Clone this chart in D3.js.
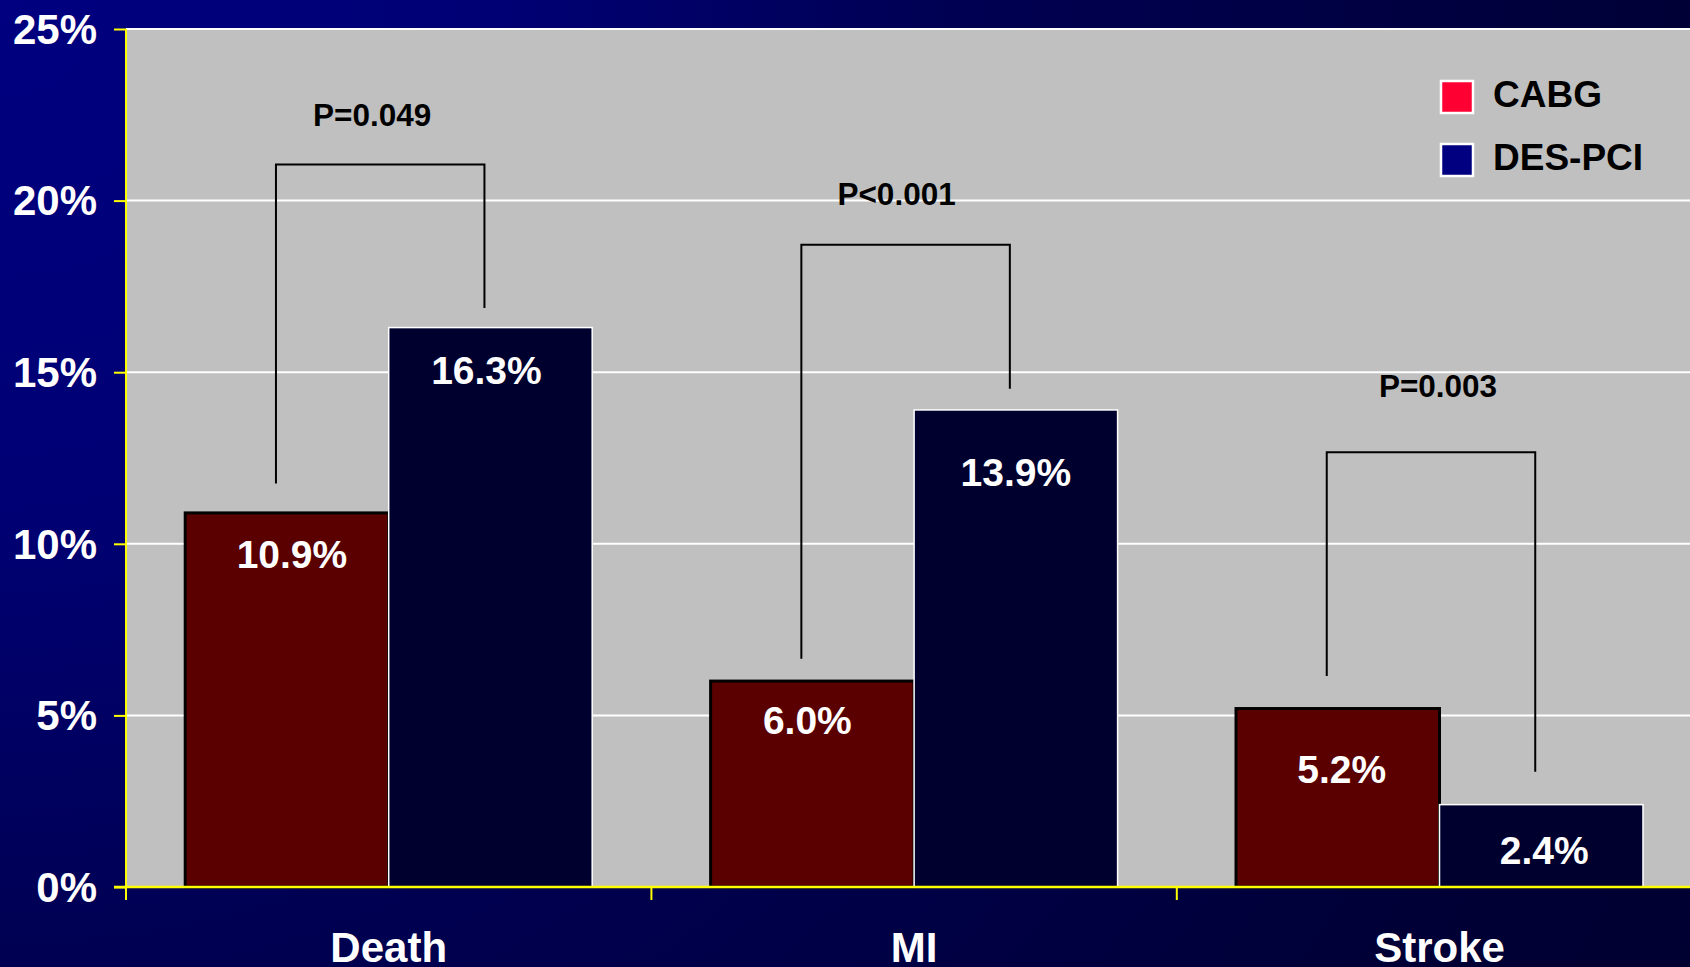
<!DOCTYPE html>
<html>
<head>
<meta charset="utf-8">
<script src="https://cdn.jsdelivr.net/npm/d3@7"></script>
<style>
  html, body { margin: 0; padding: 0; background: #000050; overflow: hidden; }
  svg { display: block; }
  text { font-family: "Liberation Sans", Arial, Helvetica, sans-serif; font-weight: bold; }
</style>
</head>
<body>
<svg id="chart" width="1690" height="967"></svg>
<script>
// Event rates by endpoint, CABG vs DES-PCI
const categories = ["Death", "MI", "Stroke"];
const seriesNames = ["CABG", "DES-PCI"];
const cabgValues = [0.109, 0.060, 0.052];
const desValues = [0.163, 0.139, 0.024];
const yTickValues = [0, 0.05, 0.10, 0.15, 0.20, 0.25];

// Significance brackets (levels in the same units as the y axis)
const pLabels = ["P=0.049", "P<0.001", "P=0.003"];
const bracketTop = [0.2105, 0.1871, 0.1267];
const bracketLeftFoot = [0.1176, 0.0665, 0.0615];
const bracketRightFoot = [0.1687, 0.1452, 0.0336];
const pLabelLevel = [0.2218, 0.1987, 0.1427];

// Label placement tweaks (px)
const pLabelShift = [-8, -9, 7];
const cabgLabelDrop = [55, 53, 74];
const desLabelDrop = [56, 76, 59];
const cabgLabelShift = [5, -5, 4];
const desLabelShift = [-4, 0, 3];

const W = 1690, H = 967;
const plot = { left: 126, top: 29, bottom: 887 };
const step = 525.4;
const plotRight = plot.left + step * categories.length;

const barFill = { "CABG": "#5a0000", "DES-PCI": "#00002e" };
const barStroke = { "CABG": "#000000", "DES-PCI": "#ffffff" };
const barStrokeW = { "CABG": 3, "DES-PCI": 1.5 };
const legendFill = { "CABG": "#ff0033", "DES-PCI": "#000080" };

const svg = d3.select("#chart");
const defs = svg.append("defs");

// Navy backdrop, brightest at the top-left corner
const grad = defs.append("radialGradient")
  .attr("id", "bg").attr("gradientUnits", "userSpaceOnUse")
  .attr("cx", 0).attr("cy", 0).attr("r", 2000);
[[0, "#000080"], [0.25, "#000074"], [0.48, "#000052"], [0.85, "#000036"], [1, "#000030"]]
  .forEach(([o, c]) => grad.append("stop").attr("offset", o).attr("stop-color", c));
svg.append("rect").attr("width", W).attr("height", H).attr("fill", "url(#bg)");

const x = d3.scaleBand().domain(categories).range([plot.left, plotRight]).paddingInner(0).paddingOuter(0);
const xs = d3.scaleBand().domain(seriesNames).range([0, x.bandwidth()]).paddingInner(0).paddingOuter(0.291);
const y = d3.scaleLinear().domain([0, 0.25]).range([plot.bottom, plot.top]);

// Plot area
svg.append("rect")
  .attr("x", plot.left).attr("y", plot.top)
  .attr("width", plotRight - plot.left).attr("height", plot.bottom - plot.top)
  .attr("fill", "#c0c0c0");

// Horizontal gridlines
svg.append("g").selectAll("line")
  .data(yTickValues.filter(d => d > 0))
  .join("line")
  .attr("x1", plot.left).attr("x2", plotRight)
  .attr("y1", d => y(d)).attr("y2", d => y(d))
  .attr("stroke", "#ffffff").attr("stroke-width", 2);

// Bars
const rows = categories.map((c, i) => ({
  category: c,
  items: [
    { series: "CABG", value: cabgValues[i], drop: cabgLabelDrop[i], shift: cabgLabelShift[i] },
    { series: "DES-PCI", value: desValues[i], drop: desLabelDrop[i], shift: desLabelShift[i] }
  ]
}));

const groups = svg.append("g").selectAll("g")
  .data(rows).join("g")
  .attr("transform", d => `translate(${x(d.category)},0)`);

groups.selectAll("rect")
  .data(d => d.items).join("rect")
  .attr("x", d => xs(d.series))
  .attr("y", d => y(d.value))
  .attr("width", xs.bandwidth())
  .attr("height", d => y(0) - y(d.value))
  .attr("fill", d => barFill[d.series])
  .attr("stroke", d => barStroke[d.series])
  .attr("stroke-width", d => barStrokeW[d.series]);

groups.selectAll("text.val")
  .data(d => d.items).join("text")
  .attr("class", "val")
  .attr("x", d => xs(d.series) + xs.bandwidth() / 2 + d.shift)
  .attr("y", d => y(d.value) + d.drop)
  .attr("text-anchor", "middle")
  .attr("fill", "#ffffff")
  .attr("font-size", 39)
  .text(d => d3.format(".1%")(d.value));

// Significance brackets
const brackets = categories.map((c, i) => {
  const x0 = x(c) + xs("CABG") + xs.bandwidth() / 2 - 11;
  const x1 = x(c) + xs("DES-PCI") + xs.bandwidth() / 2 - 6;
  return { x0, x1, top: bracketTop[i], lf: bracketLeftFoot[i], rf: bracketRightFoot[i],
           label: pLabels[i], ly: pLabelLevel[i], shift: pLabelShift[i] };
});
const bg = svg.append("g");
bg.selectAll("path")
  .data(brackets).join("path")
  .attr("d", d => `M${d.x0},${y(d.lf)}V${y(d.top)}H${d.x1}V${y(d.rf)}`)
  .attr("fill", "none").attr("stroke", "#000000").attr("stroke-width", 2);
bg.selectAll("text")
  .data(brackets).join("text")
  .attr("x", d => (d.x0 + d.x1) / 2 + d.shift)
  .attr("y", d => y(d.ly))
  .attr("text-anchor", "middle")
  .attr("fill", "#000000")
  .attr("font-size", 31.5)
  .text(d => d.label);

// Axes (yellow lines)
const axisColor = "#ffff00";
svg.append("line")
  .attr("x1", plot.left).attr("x2", plot.left)
  .attr("y1", plot.top).attr("y2", plot.bottom + 13)
  .attr("stroke", axisColor).attr("stroke-width", 2);
svg.append("line")
  .attr("x1", plot.left - 12).attr("x2", plotRight)
  .attr("y1", plot.bottom).attr("y2", plot.bottom)
  .attr("stroke", axisColor).attr("stroke-width", 2.5);

const yAxis = d3.axisLeft(y).tickValues(yTickValues).tickFormat(d3.format(".0%")).tickSize(12).tickPadding(17);
const ya = svg.append("g").attr("transform", `translate(${plot.left},0)`).call(yAxis);
ya.select(".domain").remove();
ya.selectAll(".tick line").attr("stroke", axisColor).attr("stroke-width", 2);
ya.selectAll(".tick text")
  .attr("fill", "#ffffff").attr("font-size", 42)
  .attr("font-family", "'Liberation Sans', Arial, sans-serif").attr("font-weight", "bold")
  .attr("dy", "0.34em");

// Category boundary ticks and labels
svg.append("g").selectAll("line")
  .data(categories).join("line")
  .attr("x1", d => x(d)).attr("x2", d => x(d))
  .attr("y1", plot.bottom).attr("y2", plot.bottom + 13)
  .attr("stroke", axisColor).attr("stroke-width", 2);
svg.append("g").selectAll("text")
  .data(categories).join("text")
  .attr("x", d => x(d) + x.bandwidth() / 2)
  .attr("y", 962)
  .attr("text-anchor", "middle")
  .attr("fill", "#ffffff")
  .attr("font-size", 42)
  .text(d => d);

// Legend
const legend = svg.append("g").attr("transform", "translate(1441,81)");
const li = legend.selectAll("g").data(seriesNames).join("g")
  .attr("transform", (d, i) => `translate(0,${i * 63})`);
li.append("rect")
  .attr("width", 32).attr("height", 32)
  .attr("fill", d => legendFill[d])
  .attr("stroke", "#ffffff").attr("stroke-width", 2.5);
li.append("text")
  .attr("x", 52).attr("y", 26)
  .attr("fill", "#000000")
  .attr("font-size", 37)
  .text(d => d);
</script>
</body>
</html>
